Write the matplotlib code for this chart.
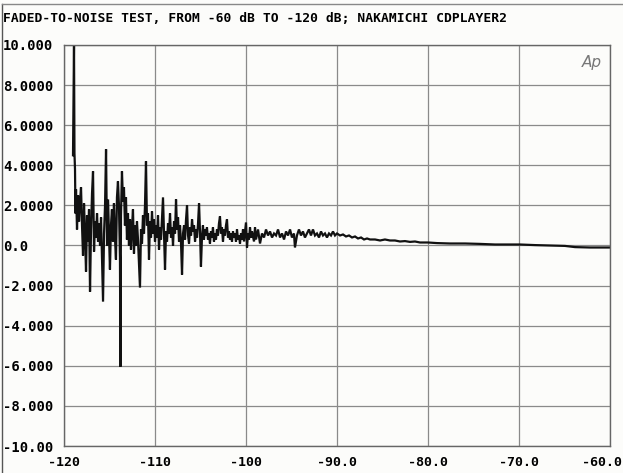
import matplotlib
matplotlib.use("Agg")
import matplotlib.pyplot as plt
import matplotlib.transforms as mtransforms
from matplotlib.lines import Line2D

# level in dB (x) and deviation (y)
level_db = [
    -119.01, -118.90, -118.85, -118.79, -118.74, -118.68, -118.57, -118.46, -118.35, -118.24,
    -118.13, -118.02, -117.91, -117.80, -117.69, -117.58, -117.47, -117.36, -117.25, -117.14,
    -117.03, -116.92, -116.81, -116.70, -116.59, -116.48, -116.37, -116.26, -116.15, -116.04,
    -115.93, -115.82, -115.71, -115.60, -115.49, -115.38, -115.27, -115.16, -115.05, -114.95,
    -114.84, -114.73, -114.62, -114.51, -114.40, -114.29, -114.18, -114.07, -113.96, -113.85,
    -113.80, -113.74, -113.63, -113.52, -113.41, -113.30, -113.19, -113.08, -112.97, -112.86,
    -112.75, -112.64, -112.53, -112.42, -112.31, -112.20, -112.09, -111.98, -111.87, -111.76,
    -111.65, -111.54, -111.43, -111.32, -111.21, -111.10, -110.99, -110.88, -110.77, -110.66,
    -110.55, -110.44, -110.33, -110.22, -110.11, -110.00,
    -109.89, -109.78, -109.67, -109.56, -109.45, -109.34, -109.23, -109.12, -109.01, -108.90,
    -108.79, -108.68, -108.57, -108.46, -108.35, -108.24, -108.13, -108.02, -107.91, -107.80,
    -107.69, -107.58, -107.47, -107.36, -107.25, -107.14, -107.03, -106.92, -106.81, -106.70,
    -106.59, -106.48, -106.37, -106.26, -106.15, -106.04, -105.93, -105.82, -105.71, -105.60,
    -105.49, -105.38, -105.27, -105.16, -105.05, -104.95, -104.84, -104.73, -104.62, -104.51,
    -104.40, -104.29, -104.18, -104.07, -103.96, -103.85, -103.74, -103.63, -103.52, -103.41,
    -103.30, -103.19, -103.08, -102.97, -102.86, -102.75, -102.64, -102.53, -102.42, -102.31,
    -102.20, -102.09, -101.98, -101.87, -101.76, -101.65, -101.54, -101.43, -101.32, -101.21,
    -101.10, -100.99, -100.88, -100.77, -100.66, -100.55, -100.44, -100.33, -100.22, -100.11,
    -100.00,
    -99.89, -99.78, -99.67, -99.56, -99.45, -99.34, -99.12, -99.01, -98.90, -98.68,
    -98.46, -98.24, -98.02, -97.80, -97.58, -97.36, -97.14, -96.92, -96.70, -96.48,
    -96.26, -96.04, -95.82, -95.60, -95.38, -95.16, -94.95, -94.73, -94.62, -94.40,
    -94.18, -93.96, -93.74, -93.52, -93.30, -93.08, -92.86, -92.64, -92.42, -92.20,
    -91.98, -91.76, -91.54, -91.32, -91.10, -90.88, -90.66, -90.44, -90.22, -90.00,
    -89.67, -89.34, -89.01, -88.68, -88.35, -88.02, -87.69, -87.36, -87.03, -86.70,
    -86.37, -85.82, -85.27, -84.73, -84.18, -83.63, -83.08, -82.53, -81.98, -81.43,
    -80.88, -80.00, -79.01, -77.58, -75.93, -74.29, -72.64, -71.00, -69.89, -68.24,
    -66.59, -64.95, -63.85, -62.20, -60.00,
]
deviation = [
    4.5, 10.0, 4.6, 3.8, 1.6, 2.8, 0.8, 2.5, 1.2, 2.2,
    2.9, 1.0, -0.5, 2.1, 0.5, -1.3, 1.5, 0.2, 1.8, -2.3,
    0.8, 2.6, 3.7, -0.3, 1.2, 0.4, 1.6, 0.2, 1.1, 0.0,
    1.4, -0.8, -2.8, 0.6, 2.0, 4.8, 0.0, 2.3, 0.5, -1.2,
    1.0, 1.8, 0.2, 2.1, 0.4, -0.7, 2.4, 3.2, 2.0, -0.6,
    -6.05, 1.5, 3.7, 2.2, 2.9, 1.0, 2.4, 0.3, 1.6, 0.0,
    1.3, -0.2, 0.9, 1.8, -0.4, 1.0, 0.0, 1.2, 0.3, -0.9,
    -2.1, 0.8, 0.1, 1.5, 0.6, 2.0, 4.2, 1.0, 1.6, -0.7,
    1.2, 0.4, 1.7, 0.6, 1.3, 0.2,
    1.0, 0.4, 1.5, -0.2, 0.9, 0.3, 1.4, 2.4, 0.5, -1.2,
    0.7, 0.2, 1.1, 0.6, 1.6, 0.4, 0.9, 0.0, 1.2, 0.6,
    2.3, 0.8, 1.4, 0.2, 1.0, 0.1, -1.45, 0.6, 1.0, 0.3,
    1.3, 2.0, 0.5, 0.1, 0.9, 0.5, 1.3, 0.7, 1.0, 0.2,
    0.8, 0.4, 1.1, 2.1, 0.6, -1.05, 0.4, 1.0, 0.3, 0.8,
    0.5, 0.9, 0.3, 0.6, 0.1, 0.7, 0.4, 0.9, 0.2, 0.6,
    0.3, 0.8, 0.5, 1.1, 1.45, 0.6, 0.9, 0.2, 0.8, 0.5,
    1.0, 1.3, 0.4, 0.7, 0.3, 0.6, 0.2, 0.7, 0.4, 0.6,
    0.2, 0.8, 0.3, 0.5, 0.1, 0.6, 0.3, 0.8, 0.2, 0.7,
    1.15,
    -0.1, 0.6, 0.3, 0.9, 0.4, 0.7, 0.2, 0.9, 0.3, 0.8,
    0.1, 0.6, 0.4, 0.8, 0.5, 0.7, 0.4, 0.6, 0.5, 0.8,
    0.4, 0.6, 0.3, 0.7, 0.5, 0.8, 0.4, 0.6, -0.1, 0.5,
    0.8, 0.5, 0.7, 0.4, 0.6, 0.8, 0.5, 0.8, 0.5, 0.6,
    0.4, 0.7, 0.5, 0.6, 0.4, 0.6, 0.5, 0.7, 0.5, 0.6,
    0.5, 0.55, 0.45, 0.5, 0.4, 0.45, 0.35, 0.4, 0.3, 0.35,
    0.3, 0.3, 0.25, 0.3, 0.25, 0.25, 0.2, 0.22, 0.18, 0.2,
    0.15, 0.15, 0.12, 0.1, 0.1, 0.08, 0.05, 0.05, 0.05, 0.02,
    0.0, -0.02, -0.08, -0.1, -0.1,
]

x_ticks = [-120, -110, -100, -90, -80, -70, -60]
x_labels = ['-120', '-110', '-100', '-90.0', '-80.0', '-70.0', '-60.0']
y_ticks = [10, 8, 6, 4, 2, 0, -2, -4, -6, -8, -10]
y_labels = ['10.000', '8.0000', '6.0000', '4.0000', '2.0000', '0.0',
            '-2.000', '-4.000', '-6.000', '-8.000', '-10.00']

title = 'FADED-TO-NOISE TEST, FROM -60 dB TO -120 dB; NAKAMICHI CDPLAYER2'

mono = {'family': 'DejaVu Sans Mono', 'weight': 'bold'}

fig = plt.figure(figsize=(6.23, 4.73), dpi=100, facecolor='#fcfcfa')
ax = fig.add_axes([64 / 623, 1 - 446 / 473, 546 / 623, 401 / 473])
ax.set_facecolor('#fcfcfa')

ax.plot(level_db, deviation, color='#111111', lw=1.6, solid_joinstyle='miter')

ax.set_xlim(-120, -60)
ax.set_ylim(-10, 10)
ax.set_xticks(x_ticks)
ax.set_xticklabels(x_labels, fontsize=9.5, **mono)
ax.set_yticks(y_ticks)
ax.set_yticklabels(y_labels, fontsize=10, ha='left', **mono)
ax.tick_params(axis='y', length=0, pad=44)
ax.tick_params(axis='x', length=0, pad=7)
ax.grid(True, color='#8a8a8a', lw=0.9)
ax.set_axisbelow(True)
for s in ax.spines.values():
    s.set_color('#666666')
    s.set_linewidth(1.0)

# keep the last x label inside the page edge
last = ax.get_xticklabels()[-1]
last.set_transform(last.get_transform() + mtransforms.ScaledTranslation(-8 / 100, 0, fig.dpi_scale_trans))

fig.text(3 / 623, 1 - 18 / 473, title, fontsize=9.4, va='center', ha='left', **mono)
ax.text(0.985, 0.975, 'Ap', transform=ax.transAxes, ha='right', va='top',
        fontsize=11, style='italic', color='#777777')

# scanned page border
fig.add_artist(Line2D([2 / 623, 2 / 623], [0, 1 - 4 / 473], color='#555555', lw=1.0))
fig.add_artist(Line2D([2 / 623, 1], [1 - 4 / 473, 1 - 4 / 473], color='#888888', lw=1.0))

fig.savefig('out.png', dpi=100, facecolor=fig.get_facecolor())
